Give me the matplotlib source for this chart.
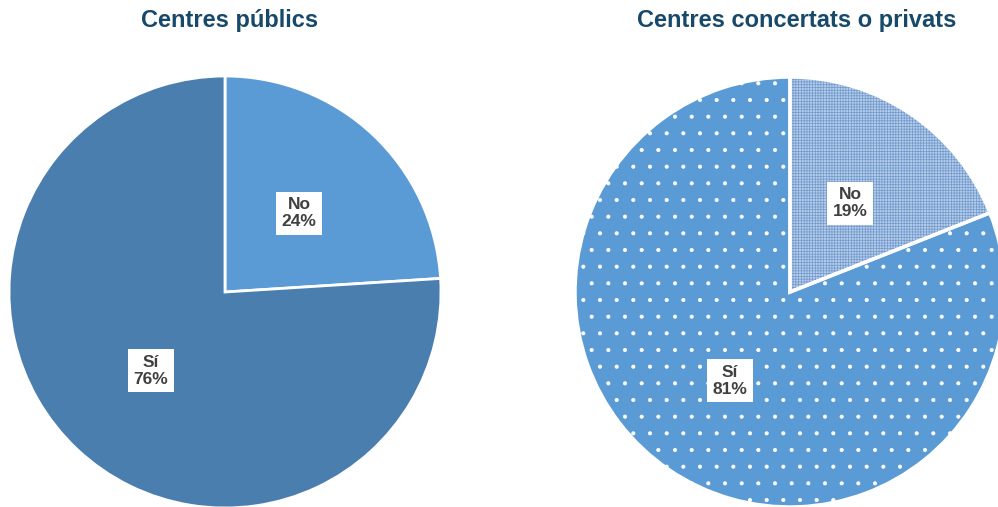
import numpy as np
import matplotlib
matplotlib.use("Agg")
import matplotlib.pyplot as plt

plt.rcParams["font.family"] = ["Liberation Sans", "DejaVu Sans"]
plt.rcParams["hatch.linewidth"] = 0.5

### data
categories = ["No", "Sí"]
publics_vals = [24, 76]
privats_vals = [19, 81]
titles = ["Centres públics", "Centres concertats o privats"]

title_color = "#17496b"
label_color = "#404040"

W, H = 998, 507
fig = plt.figure(figsize=(W / 100, H / 100), dpi=100)


def px_axes(cx, cy, r):
    # axes box in pixel coords -> figure fraction
    return [(cx - r) / W, (H - cy - r) / H, 2 * r / W, 2 * r / H]


def draw_labels(ax, wedges, vals):
    for w, cat, v in zip(wedges, categories, vals):
        ang = np.deg2rad((w.theta1 + w.theta2) / 2)
        ax.text(0.5 * np.cos(ang), 0.5 * np.sin(ang), f"{cat}\n{v}%",
                ha="center", va="center", fontsize=12.5, fontweight="bold",
                color=label_color, linespacing=1.15,
                bbox=dict(boxstyle="square,pad=0.32", fc="white", ec="none"))


# left pie: plain colours
ax1 = fig.add_axes(px_axes(225, 292, 216))
wedges1, _ = ax1.pie(publics_vals, startangle=90, counterclock=False,
                     colors=["#5b9bd5", "#4a7eae"],
                     wedgeprops=dict(edgecolor="white", linewidth=2))
draw_labels(ax1, wedges1, publics_vals)
ax1.set_xlim(-1.0, 1.0)
ax1.set_ylim(-1.0, 1.0)
ax1.set_aspect("equal")

# right pie: patterned fills (hatch first, white borders on top)
ax2 = fig.add_axes(px_axes(790, 292, 215))
wedges2, _ = ax2.pie(privats_vals, startangle=90, counterclock=False,
                     colors=["#b5cce9", "#5b9bd5"],
                     wedgeprops=dict(linewidth=0))
wedges2[0].set_hatch("++++++")
wedges2[0].set_edgecolor("#7199cd")
wedges2[1].set_hatch(".")
wedges2[1].set_edgecolor("white")
ax2.pie(privats_vals, startangle=90, counterclock=False,
        colors=["none", "none"],
        wedgeprops=dict(edgecolor="white", linewidth=2.5))
draw_labels(ax2, wedges2, privats_vals)
ax2.set_xlim(-1.0, 1.0)
ax2.set_ylim(-1.0, 1.0)
ax2.set_aspect("equal")

for x, t in zip([230, 797], titles):
    fig.text(x / W, 1 - 20 / H, t, ha="center", va="center",
             fontsize=17, fontweight="bold", color=title_color)

fig.savefig("out.png", dpi=100)
